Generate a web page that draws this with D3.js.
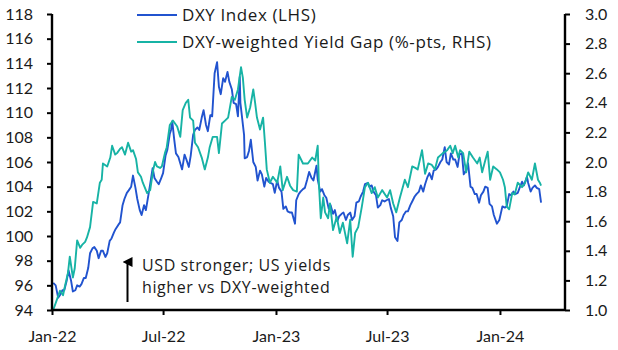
<!DOCTYPE html>
<html>
<head>
<meta charset="utf-8">
<script src="https://cdn.jsdelivr.net/npm/d3@7"></script>
<style>
  html, body { margin: 0; padding: 0; background: #fff; }
  svg { display: block; font-family: Lato, "Open Sans", sans-serif; }
</style>
</head>
<body>
<svg id="chart" width="618" height="350"></svg>
<script>
// ---------------- DATA ----------------
const startDate = "2022-01-01";
const endDate = "2024-04-16";

// DXY Index (LHS): days since start date, values
const dxyDays = [2,6,10,13,17,20,24,27,31,34,38,41,45,48,52,55,59,62,66,69,73,76,80,83,87,90,94,97,101,103,108,111,115,118,122,125,129,132,136,139,143,146,150,153,157,160,164,167,171,174,178,181,185,188,192,194,196,199,202,206,209,212,216,219,223,226,230,233,237,240,244,247,251,254,258,261,265,269,272,275,279,282,286,289,293,296,300,303,306,307,313,314,318,321,324,328,332,335,339,342,346,349,353,356,360,363,367,370,374,377,381,384,388,391,396,398,402,405,409,412,416,419,423,426,431,433,437,440,444,447,451,454,458,461,465,468,472,475,479,482,486,489,493,496,500,503,507,510,515,517,521,524,528,531,535,538,542,545,549,552,556,559,563,566,570,573,577,580,584,587,591,594,598,601,605,608,612,615,619,622,626,629,633,636,640,643,647,650,654,657,661,664,668,671,675,678,682,685,689,692,696,699,703,706,710,713,717,720,725,729,734,738,741,745,748,752,755,759,762,766,769,774,776,780,783,787,790,794,797];
const dxyValues = [96.2,96.0,95.0,95.2,95.6,95.6,96.4,97.2,96.4,95.5,95.6,96.0,95.9,96.1,96.6,96.6,97.4,98.6,99.0,99.1,98.8,98.2,98.8,98.8,98.3,98.6,99.6,99.8,100.3,100.5,100.9,101.1,102.5,103.0,103.5,103.7,104.0,104.9,103.9,103.0,102.1,101.7,102.5,102.1,103.3,104.2,105.5,104.7,104.4,104.2,104.7,105.1,106.5,107.0,108.3,108.6,109.3,107.9,106.7,106.4,105.9,105.4,106.6,106.2,105.6,106.5,108.2,108.6,108.8,108.6,109.6,110.2,109.0,108.5,109.8,109.7,113.2,114.1,112.1,111.5,112.8,112.5,113.3,112.5,111.9,110.8,110.7,109.7,112.9,110.8,108.2,106.3,106.4,106.9,107.8,106.0,105.6,104.5,105.3,105.0,104.0,104.7,104.4,104.3,104.2,103.5,104.5,103.9,103.6,102.2,102.4,102.0,101.9,101.9,101.0,102.9,103.4,103.6,103.8,103.9,104.6,105.2,104.7,104.5,105.7,104.6,103.6,103.8,103.3,103.1,102.2,102.5,101.8,102.1,101.2,101.6,101.8,101.9,101.3,101.7,101.9,101.3,101.6,102.7,102.8,103.2,103.6,104.2,104.3,104.0,104.1,103.6,103.3,102.3,102.5,102.9,102.8,102.9,103.0,102.3,101.6,99.9,99.6,101.1,101.3,101.7,102.0,102.0,102.5,102.8,103.2,103.4,103.6,104.1,103.6,104.2,104.8,105.1,104.6,105.3,105.4,105.6,106.0,106.2,107.2,106.0,105.8,106.7,106.2,106.2,105.6,106.6,106.7,105.0,105.3,105.9,104.0,103.9,103.4,103.4,102.7,103.3,103.6,104.0,103.9,102.6,102.4,101.7,101.0,101.3,102.4,102.3,102.4,103.4,103.3,103.6,103.4,103.5,103.9,104.4,104.1,104.8,104.3,103.6,103.9,104.1,103.9,103.8,102.7];

// DXY-weighted Yield Gap (%-pts, RHS): days since start date, values
const gapDays = [2,8,13,18,21,26,29,34,37,41,46,49,54,57,62,67,73,78,81,83,90,95,98,103,106,111,114,119,124,129,132,137,140,145,148,155,160,165,168,171,176,179,184,187,192,197,204,209,213,218,222,225,230,233,238,244,249,254,257,262,269,272,277,282,287,293,298,303,308,311,314,318,323,328,331,334,339,344,347,350,355,360,367,372,376,383,388,393,399,402,409,417,424,429,433,435,438,442,445,450,453,458,464,469,474,481,486,490,494,499,505,510,515,521,526,531,538,546,551,556,561,567,575,580,587,592,596,603,608,613,619,624,629,637,644,649,653,657,662,665,670,675,680,686,693,697,701,706,710,714,719,725,730,735,738,741,745,750,754,759,766,771,776,782,787,792,795,797];
const gapValues = [1.00,1.07,1.13,1.10,1.16,1.25,1.36,1.22,1.28,1.47,1.42,1.44,1.46,1.49,1.56,1.73,1.72,1.86,1.88,1.99,1.97,2.03,2.11,2.05,2.06,2.09,2.10,2.05,2.13,2.07,2.08,2.02,1.93,1.90,1.86,1.79,1.81,1.95,2.00,1.97,1.96,1.97,2.06,2.10,2.25,2.28,2.24,2.17,2.35,2.40,2.42,2.30,2.28,2.13,2.10,2.03,1.95,2.03,2.10,2.17,2.17,2.06,2.26,2.28,2.30,2.44,2.42,2.49,2.64,2.57,2.42,2.30,2.37,2.49,2.40,2.30,2.22,2.30,2.13,1.95,1.86,1.90,1.86,1.97,1.81,1.90,1.84,1.81,1.80,2.05,1.99,1.99,2.03,2.01,2.11,1.85,1.62,1.76,1.66,1.62,1.72,1.54,1.63,1.52,1.59,1.45,1.61,1.36,1.52,1.56,1.70,1.83,1.86,1.79,1.83,1.76,1.81,1.76,1.81,1.72,1.66,1.76,1.88,1.83,1.97,1.96,1.95,2.08,1.92,1.99,1.98,1.95,2.03,2.06,2.08,2.11,2.06,2.11,2.03,2.08,2.06,1.93,2.07,2.03,1.99,2.03,1.93,2.01,2.07,1.88,1.97,1.95,1.93,1.88,1.83,1.70,1.68,1.79,1.78,1.86,1.83,1.86,1.93,1.88,1.99,1.88,1.86,1.84];

const leftTicks = [94,96,98,100,102,104,106,108,110,112,114,116,118];
const rightTicks = [1.0,1.2,1.4,1.6,1.8,2.0,2.2,2.4,2.6,2.8,3.0];
const xTickDates = ["2022-01-01","2022-07-01","2023-01-01","2023-07-01","2024-01-01"];
const xTickLabels = ["Jan-22","Jul-22","Jan-23","Jul-23","Jan-24"];
const seriesNames = ["DXY Index (LHS)", "DXY-weighted Yield Gap (%-pts, RHS)"];
const annotationLines = ["USD stronger; US yields", "higher vs DXY-weighted"];

// ---------------- CHART ----------------
const colors = { dxy: "#2153cf", gap: "#17b3a5" };
const parse = d3.timeParse("%Y-%m-%d");
const t0 = parse(startDate);
const dxy = dxyDays.map((d, i) => ({ date: d3.timeDay.offset(t0, d), v: dxyValues[i] }));
const gap = gapDays.map((d, i) => ({ date: d3.timeDay.offset(t0, d), v: gapValues[i] }));

const L = 52, R = 565, T = 14, B = 310;
const svg = d3.select("#chart");

const x = d3.scaleTime().domain([t0, parse(endDate)]).range([L, R]);
const yL = d3.scaleLinear().domain([94, 118]).range([B, T]);
const yR = d3.scaleLinear().domain([1, 3]).range([B, T]);

// lines
const lineL = d3.line().x(d => x(d.date)).y(d => yL(d.v));
const lineR = d3.line().x(d => x(d.date)).y(d => yR(d.v));

svg.append("path").datum(dxy).attr("d", lineL)
  .attr("fill", "none").attr("stroke", colors.dxy).attr("stroke-width", 1.9).attr("stroke-linejoin", "round");
svg.append("path").datum(gap).attr("d", lineR)
  .attr("fill", "none").attr("stroke", colors.gap).attr("stroke-width", 1.9).attr("stroke-linejoin", "round");

// axes
const fontSize = 16;
const textFont = "'Open Sans', sans-serif";
const xTickMap = new Map(xTickDates.map((d, i) => [+parse(d), xTickLabels[i]]));
const gx = svg.append("g").attr("transform", `translate(0,${B})`)
  .call(d3.axisBottom(x).tickValues(xTickDates.map(parse)).tickSize(5).tickPadding(16)
    .tickFormat(d => xTickMap.get(+d)));
const gl = svg.append("g").attr("transform", `translate(${L},0)`)
  .call(d3.axisLeft(yL).tickValues(leftTicks).tickSize(5).tickPadding(14).tickFormat(d3.format("d")));
const gr = svg.append("g").attr("transform", `translate(${R},0)`)
  .call(d3.axisRight(yR).tickValues(rightTicks).tickSize(5).tickPadding(15).tickFormat(d3.format(".1f")));

[gx, gl, gr].forEach(g => {
  g.select(".domain").attr("stroke", "#000").attr("stroke-width", 2.4);
  g.selectAll(".tick line").attr("stroke", "#000").attr("stroke-width", 2);
  g.selectAll(".tick text").attr("fill", "#1a1a1a").style("font-size", fontSize + "px").style("font-family", "Lato, sans-serif");
});
gl.select(".domain").attr("d", `M0,${T}V${B}`);
gr.select(".domain").attr("d", `M0,${T}V${B}`);
gx.select(".domain").attr("d", `M${L},0H${R}`);

// legend
const legend = svg.append("g");
[[colors.dxy, 15], [colors.gap, 42]].forEach(([c, y], i) => {
  legend.append("line").attr("x1", 137).attr("x2", 177).attr("y1", y).attr("y2", y)
    .attr("stroke", c).attr("stroke-width", 2);
  legend.append("text").attr("x", 182).attr("y", y).attr("dy", "0.36em")
    .style("font-size", "17px").style("font-family", textFont).style("letter-spacing", "0.6px")
    .attr("fill", "#1a1a1a").text(seriesNames[i]);
});

// annotation
svg.append("defs").append("marker").attr("id", "arr").attr("viewBox", "0 0 10 10")
  .attr("refX", 5).attr("refY", 5).attr("markerWidth", 5).attr("markerHeight", 5)
  .attr("markerUnits", "strokeWidth").attr("orient", "auto")
  .append("path").attr("d", "M0,10L5,0L10,10Z").attr("fill", "#000");
svg.append("line").attr("x1", 127.5).attr("x2", 127.5).attr("y1", 302).attr("y2", 262)
  .attr("stroke", "#000").attr("stroke-width", 2).attr("marker-end", "url(#arr)");
svg.append("g").selectAll("text").data(annotationLines).join("text")
  .attr("x", 142).attr("y", (d, i) => 271 + i * 22)
  .style("font-size", "16px").style("font-family", textFont).style("letter-spacing", "0.6px")
  .attr("fill", "#1a1a1a").text(d => d);
</script>
</body>
</html>
